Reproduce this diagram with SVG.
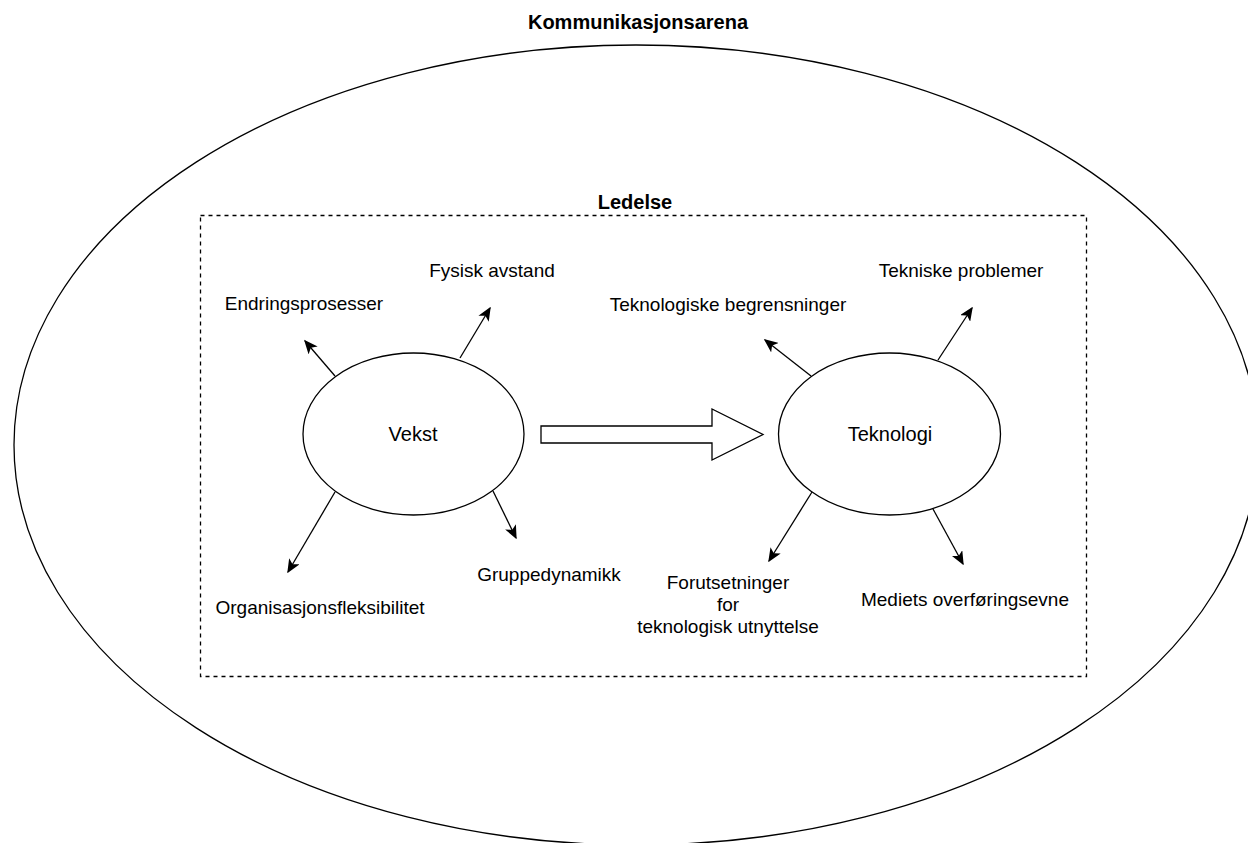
<svg xmlns="http://www.w3.org/2000/svg" width="1248" height="843" viewBox="0 0 1248 843">
<style>
text{font-family:"Liberation Sans",Arial,Helvetica,sans-serif;fill:#000;}
.title{font-size:20px;font-weight:bold;text-anchor:middle;}
.lbl{font-size:19px;text-anchor:middle;}
.nodeText{font-size:20px;text-anchor:middle;}
.shape{fill:#fff;stroke:#000;stroke-width:1.3;}
.conn{fill:none;stroke:#000;stroke-width:1.3;marker-end:url(#arr);}
</style>
<defs>
<marker id="arr" markerUnits="userSpaceOnUse" markerWidth="14" markerHeight="12" viewBox="0 0 14 12" refX="12.5" refY="6" orient="auto">
<path d="M0,0 L14,6 L0,12 L3.5,6 Z" fill="#000"/>
</marker>
</defs>
<rect width="1248" height="843" fill="#fff"/>
<g id="arena">
<ellipse cx="636" cy="445" rx="622" ry="400" fill="none" stroke="#000" stroke-width="1.3"/>
<text class="title" x="638" y="29">Kommunikasjonsarena</text>
</g>
<g id="ledelse">
<rect x="200.5" y="215.5" width="886" height="461" fill="none" stroke="#000" stroke-width="1.3" stroke-dasharray="4 4"/>
<text class="title" x="635" y="209">Ledelse</text>
</g>
<g id="vekst">
<ellipse class="shape" cx="413.5" cy="434" rx="110.5" ry="81"/>
<text class="nodeText" x="413" y="441">Vekst</text>
</g>
<g id="teknologi">
<ellipse class="shape" cx="889.5" cy="434" rx="111" ry="81"/>
<text class="nodeText" x="890" y="441">Teknologi</text>
</g>
<g id="blockArrow">
<polygon class="shape" points="541,426 712,426 712,409 763,434.5 712,460 712,443 541,443"/>
</g>
<g id="labels">
<text id="endringsprosesser" class="lbl" x="304" y="310">Endringsprosesser</text>
<text id="fysisk" class="lbl" x="492" y="277">Fysisk avstand</text>
<text id="organisasjon" class="lbl" x="320" y="614">Organisasjonsfleksibilitet</text>
<text id="gruppe" class="lbl" x="549" y="581">Gruppedynamikk</text>
<text id="teknbegr" class="lbl" x="728" y="311">Teknologiske begrensninger</text>
<text id="teknprob" class="lbl" x="961" y="277">Tekniske problemer</text>
<text id="forutsetninger" class="lbl" x="728" y="589">Forutsetninger<tspan x="728" dy="22">for</tspan><tspan x="728" dy="22">teknologisk utnyttelse</tspan></text>
<text id="mediets" class="lbl" x="965" y="606">Mediets overføringsevne</text>
</g>
<g id="connectors">
<line class="conn" x1="335" y1="376" x2="305" y2="341"/>
<line class="conn" x1="460" y1="358" x2="490" y2="308"/>
<line class="conn" x1="335" y1="492" x2="288" y2="572"/>
<line class="conn" x1="493" y1="491" x2="516" y2="538"/>
<line class="conn" x1="811" y1="376" x2="765" y2="340"/>
<line class="conn" x1="938" y1="360" x2="972" y2="308"/>
<line class="conn" x1="812" y1="492" x2="769" y2="561"/>
<line class="conn" x1="933" y1="509" x2="963" y2="564"/>
</g>
</svg>
